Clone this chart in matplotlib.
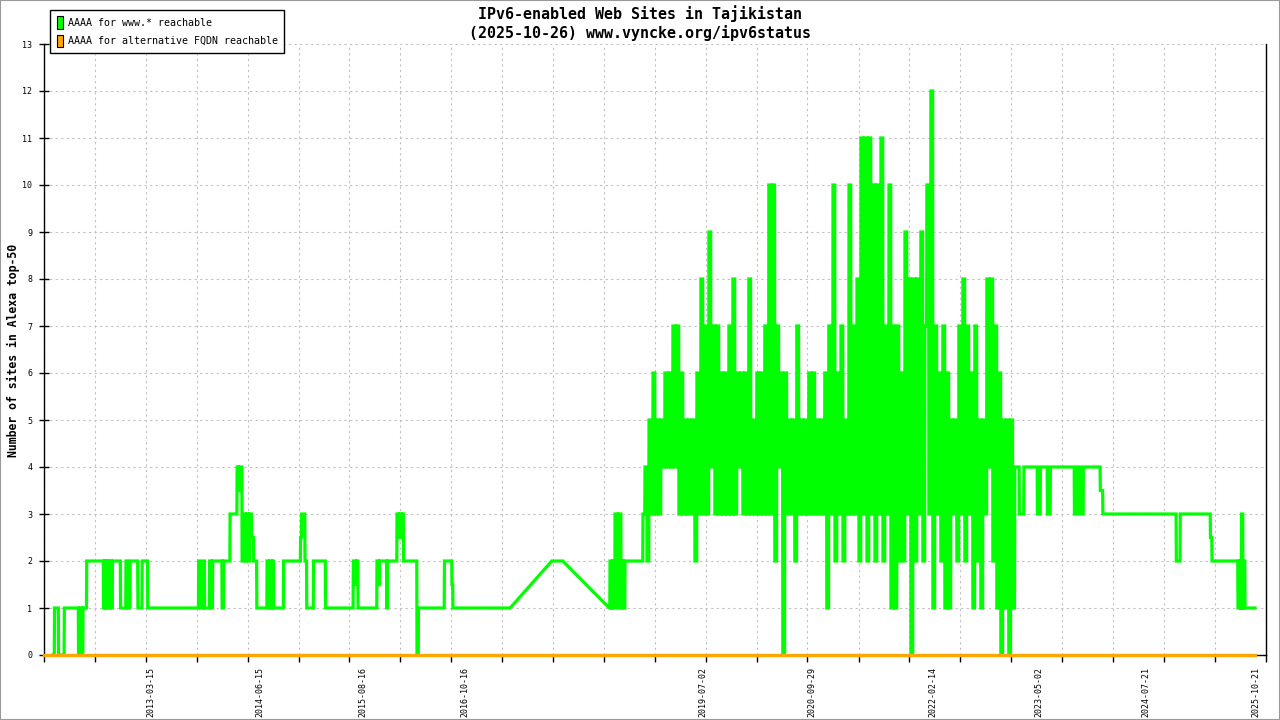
import numpy as np
import pandas as pd
import matplotlib
matplotlib.use("Agg")
from matplotlib import pyplot as plt
from matplotlib.patches import Patch, Rectangle
import matplotlib.dates as mdates
import matplotlib.transforms as mtransforms

title = "IPv6-enabled Web Sites in Tajikistan\n(2025-10-26) www.vyncke.org/ipv6status"
ylabel = "Number of sites in Alexa top-50"
series_names = ["AAAA for www.* reachable", "AAAA for alternative FQDN reachable"]

# www.* reachable: each value holds from its start (decimal year) until the next start.
# None = no data there, gnuplot just joins the line across the hole.
www_start = [2012.133, 2012.147, 2012.193, 2012.259, 2012.421, 2012.441, 2012.461, 2012.472, 2012.514,
             2012.706, 2012.717, 2012.734, 2012.746, 2012.763, 2012.774, 2012.797, 2012.808, 2012.900, 2012.962, 2012.979,
             2013.008, 2013.096, 2013.145, 2013.208, 2013.789, 2013.812, 2013.846, 2013.857, 2013.914, 2013.932, 2013.949,
             2014.057, 2014.074, 2014.148, 2014.228, 2014.245, 2014.257, 2014.285, 2014.302, 2014.325, 2014.336, 2014.359,
             2014.371, 2014.393, 2014.416, 2014.453, 2014.570, 2014.587, 2014.604, 2014.621, 2014.633, 2014.644, 2014.758,
             2014.952, 2014.964, 2015.003, 2015.023, 2015.100, 2015.237, 2015.554, 2015.579, 2015.591, 2015.608, 2015.824,
             2015.842, 2015.853, 2015.935, 2015.944, 2016.053, 2016.070, 2016.081, 2016.104, 2016.115, 2016.127, 2016.281,
             2016.298, 2016.594, 2016.680, 2016.691, 2017.341, 2017.816, 2017.942, 2018.473, 2018.481, 2018.498, 2018.510,
             2018.527, 2018.538, 2018.567, 2018.578, 2018.607, 2018.618, 2018.635, 2018.652]
www_value = [0, 1, 0, 1, 0, 1, 0, 1, 2,
             1, 2, 1, 2, 1, 2, 1, 2, 1, 2, 1,
             2, 1, 2, 1, 2, 1, 2, 1, 2, 1, 2,
             1, 2, 3, 4, 3.5, 4, 2, 3, 2, 3, 2,
             3, 2.5, 2, 1, 2, 1, 2, 1, 2, 1, 2,
             2.5, 3, 2, 1, 2, 1, 2, 1.5, 2, 1, 2,
             1.5, 2, 1, 2, 3, 2.5, 3, 2.5, 3, 2, 0,
             1, 2, 1.5, 1, None, 2, None, 1, 2, 1, 2,
             1, 3, 1, 3, 1, 2, 1, 2]

# the busy 2019-2023 stretch, one reading about every 8 days
busy_start = 2018.857
busy_step = 0.0228
busy_value = [3, 4, 2, 5, 3, 6, 3, 5, 3, 5,
              4, 6, 4, 6, 4, 7, 4, 7, 3, 6,
              3, 5, 3, 5, 3, 5, 2, 6, 3, 8,
              3, 7, 3, 9, 4, 7, 3, 7, 3, 6,
              3, 6, 3, 7, 3, 8, 3, 6, 4, 6,
              3, 6, 3, 8, 3, 5, 3, 6, 3, 6,
              3, 7, 3, 10, 3, 10, 2, 7, 4, 6,
              0, 6, 3, 5, 3, 5, 2, 7, 3, 5,
              3, 5, 3, 6, 3, 6, 3, 5, 3, 5,
              3, 6, 1, 7, 3, 10, 2, 6, 3, 7,
              2, 5, 3, 10, 3, 7, 3, 8, 2, 11,
              3, 11, 2, 11, 3, 10, 2, 10, 3, 11,
              2, 7, 3, 10, 1, 7, 1, 7, 2, 6,
              2, 9, 3, 8, 0, 8, 2, 8, 3, 9,
              2, 7, 10, 3, 12, 1, 7, 3, 6, 2,
              7, 1, 6, 1, 5, 3, 5, 2, 7, 3,
              8, 2, 7, 3, 6, 1, 7, 2, 5, 1,
              5, 3, 8, 4, 8, 2, 7, 1, 6, 0,
              5, 1, 5, 0, 5, 1, 4]

tail_start = [2023.122, 2023.150, 2023.202, 2023.356, 2023.390, 2023.470, 2023.504, 2023.778, 2023.812,
              2023.846, 2023.880, 2024.074, 2024.103, 2024.941, 2024.986, 2025.328, 2025.346, 2025.642,
              2025.659, 2025.671, 2025.682, 2025.699, 2025.710, 2025.722]
tail_value = [4, 3, 4, 3, 4, 3, 4, 3, 4, 3, 4, 3.5, 3, 2, 3, 2.5, 2, 1, 2, 1, 3, 1, 2, 1]
www_end = 2025.836

# alternative FQDN: flat zero the whole time
fqdn_start = 2012.027
fqdn_end = 2025.836
fqdn_value = 0

date_labels = ["2013-03-15", "2014-06-15", "2015-08-16", "2016-10-16", "2019-07-02",
               "2020-09-29", "2022-02-14", "2023-05-02", "2024-07-21", "2025-10-21"]
x_first, x_last = 2012.027, 2025.958


def to_date(y):
    yr = int(y)
    return pd.Timestamp(year=yr, month=1, day=1) + pd.Timedelta(days=(y - yr) * 365.25)


starts = www_start + [busy_start + i * busy_step for i in range(len(busy_value))] + tail_start
values = www_value + busy_value + tail_value

xs, ys = [], []
one_day = 1 / 365.25
for i, (s, v) in enumerate(zip(starts, values)):
    if v is None:
        continue
    if i + 1 < len(starts):
        nxt = starts[i + 1]
        end = nxt if values[i + 1] is None else nxt - one_day
    else:
        end = www_end
    xs += [to_date(s), to_date(end)]
    ys += [v, v]

mono = "DejaVu Sans Mono"
GREEN = "#00ff00"
ORANGE = "#ffa500"

fig = plt.figure(figsize=(12.8, 7.2), dpi=100)
ax = fig.add_axes([44 / 1280, 1 - 655 / 720, (1265.7 - 44) / 1280, (655 - 44) / 720])

ax.plot(xs, ys, color=GREEN, lw=2.3, solid_joinstyle="miter", zorder=3)
ax.plot([to_date(fqdn_start), to_date(fqdn_end)], [fqdn_value, fqdn_value],
        color=ORANGE, lw=2.4, zorder=4, clip_on=False)

ax.set_xlim(to_date(x_first), to_date(x_last))
ax.set_ylim(0, 13)

major = [mdates.date2num(to_date(t)) for t in np.linspace(x_first, x_last, 25)]
ax.set_xticks(major)
ax.set_xticklabels([])
ax.set_xticks([mdates.date2num(pd.Timestamp(d)) for d in date_labels], minor=True)
ax.set_xticklabels(date_labels, minor=True, rotation=90, fontsize=6, family=mono)
ax.tick_params(axis="x", which="major", direction="out", length=5, width=1)
ax.tick_params(axis="x", which="minor", length=0, pad=8.5)
shift = mtransforms.ScaledTranslation(3.5 / 100, 0, fig.dpi_scale_trans)
for lbl in ax.get_xticklabels(minor=True):
    lbl.set_transform(lbl.get_transform() + shift)

ax.set_yticks(range(0, 14))
ax.set_yticklabels([str(v) for v in range(0, 14)], fontsize=6, family=mono)
ax.tick_params(axis="y", direction="inout", length=7, width=1, pad=5, right=False)

ax.grid(True, which="major", color="#c0c0c0", linestyle=(0, (2, 3)), linewidth=0.8)
ax.set_axisbelow(True)

ax.spines["top"].set_visible(False)
for side in ("left", "right", "bottom"):
    ax.spines[side].set_color("black")
    ax.spines[side].set_linewidth(1)

fig.text(13 / 1280, 1 - 350 / 720, ylabel, rotation=90, ha="center", va="center",
         fontsize=8.3, fontweight="bold", family=mono)
fig.text(640 / 1280, 1 - 23 / 720, title, ha="center", va="center", fontsize=10.8,
         fontweight="bold", family=mono, linespacing=1.25)

handles = [Patch(facecolor=GREEN, edgecolor="black", linewidth=0.8),
           Patch(facecolor=ORANGE, edgecolor="black", linewidth=0.8)]
leg = ax.legend(handles, series_names, loc="upper left", bbox_to_anchor=(50 / 1280, 1 - 10 / 720),
                bbox_transform=fig.transFigure, borderaxespad=0, fancybox=False, framealpha=1,
                edgecolor="black", prop={"family": mono, "size": 7.2}, handlelength=0.6,
                handleheight=1.5, handletextpad=0.5, labelspacing=0.6, borderpad=0.65)
leg.get_frame().set_linewidth(1)

fig.add_artist(Rectangle((0, 0), 1, 1, transform=fig.transFigure, fill=False,
                         edgecolor="#999999", linewidth=1.5))

fig.savefig("out.png", dpi=100)
